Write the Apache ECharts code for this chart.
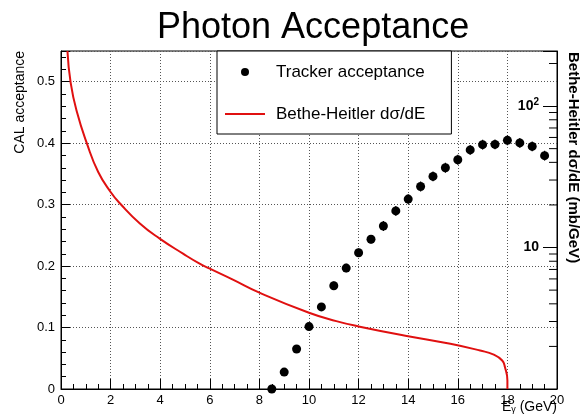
<!DOCTYPE html>
<html>
<head>
<meta charset="utf-8">
<script src="https://cdn.jsdelivr.net/npm/echarts@6/dist/echarts.min.js"></script>
<style>
  html, body { margin: 0; padding: 0; background: #fff; }
  #chart { width: 581px; height: 419px; }
</style>
</head>
<body>
<div id="chart"></div>
<script>
// tracker acceptance points (E in GeV, acceptance, error)
var trackerE = [8.5, 9, 9.5, 10, 10.5, 11, 11.5, 12, 12.5, 13, 13.5, 14, 14.5, 15, 15.5, 16, 16.5, 17, 17.5, 18, 18.5, 19, 19.5];
var trackerAcc = [0.0, 0.0275, 0.065, 0.1015, 0.1336, 0.168, 0.1968, 0.2218, 0.2436, 0.2653, 0.2898, 0.309, 0.3295, 0.3459, 0.36, 0.3731, 0.389, 0.3976, 0.398, 0.4046, 0.4004, 0.3948, 0.3797];
var trackerErr = [0.005, 0.005, 0.006, 0.006, 0.006, 0.007, 0.007, 0.007, 0.007, 0.008, 0.008, 0.008, 0.008, 0.008, 0.008, 0.008, 0.008, 0.008, 0.008, 0.008, 0.008, 0.008, 0.008];

// Bethe-Heitler dσ/dE in mb/GeV, read on the right (log) scale
var bhE = [0.26, 0.39, 0.64, 1.05, 1.5, 2.0, 2.4, 3.18, 3.98, 4.92, 5.59, 6.0, 6.93, 8.0, 10, 11.1, 12, 14, 15.7, 16.9, 17.45, 17.79, 17.9, 18.0, 18.0];
var bhVal = [245, 146, 91, 54, 34.2, 24.7, 20.3, 14.8, 11.56, 9.05, 7.69, 7.09, 5.93, 4.8, 3.46, 3.02, 2.77, 2.36, 2.09, 1.87, 1.75, 1.59, 1.43, 1.15, 1.0];

// right log axis minor ticks
var rightMinorTicks = [2, 3, 4, 5, 6, 7, 8, 9, 20, 30, 40, 50, 60, 70, 80, 90, 200];

var chart = echarts.init(document.getElementById('chart'));

var FONT = 'Liberation Sans, Arial, sans-serif';
var RED = '#e01010';

var option = {
  backgroundColor: '#fff',
  animation: false,
  title: {
    text: 'Photon Acceptance',
    left: 152,
    top: 5,
    textStyle: { fontFamily: FONT, fontSize: 36, fontWeight: 'normal', color: '#000' }
  },
  legend: {
    left: 217,
    top: 51,
    orient: 'vertical',
    backgroundColor: '#fff',
    borderColor: '#000',
    borderWidth: 1,
    borderRadius: 0,
    padding: [11, 26, 10, 8],
    itemWidth: 40,
    itemHeight: 8,
    itemGap: 22,
    textStyle: { fontFamily: FONT, fontSize: 17, color: '#000', lineHeight: 20, padding: [0, 0, 0, 6] },
    data: [
      { name: 'Tracker acceptance', icon: 'circle', itemStyle: { color: '#000', opacity: 1 } },
      { name: 'Bethe-Heitler dσ/dE', icon: 'path://M0,0 L40,0 L40,2 L0,2 Z', itemStyle: { color: RED, opacity: 1 } }
    ]
  },
  grid: {
    left: 61, right: 24, top: 51, bottom: 30,
    show: true, borderColor: '#000', borderWidth: 1, backgroundColor: 'transparent'
  },
  xAxis: {
    type: 'value',
    min: 0, max: 20, interval: 2,
    axisLine: { lineStyle: { color: '#000' } },
    axisTick: { inside: true, length: 10, lineStyle: { color: '#000' } },
    minorTick: { show: true, splitNumber: 4, length: 5, lineStyle: { color: '#000' } },
    axisLabel: { margin: 5, fontFamily: FONT, fontSize: 13, color: '#000' },
    splitLine: { show: true, lineStyle: { color: '#555', type: [1, 2], width: 1 } }
  },
  yAxis: [{
    type: 'value',
    min: 0, max: 0.55, interval: 0.1,
    axisLine: { lineStyle: { color: '#000' } },
    axisTick: { inside: true, length: 9, lineStyle: { color: '#000' } },
    minorTick: { show: true, splitNumber: 5, length: 5, lineStyle: { color: '#000' } },
    axisLabel: { margin: 6, fontFamily: FONT, fontSize: 13, color: '#000', showMaxLabel: false },
    splitLine: { show: true, lineStyle: { color: '#555', type: [1, 2], width: 1 } }
  }, {
    type: 'log',
    logBase: 10,
    min: 1, max: 245,
    position: 'right',
    axisLine: { show: true, lineStyle: { color: '#000' } },
    axisTick: { inside: true, length: 14, lineStyle: { color: '#000' } },
    splitLine: { show: false },
    axisLabel: {
      inside: true, margin: 18, fontFamily: FONT, fontSize: 14, fontWeight: 'bold', color: '#000',
      formatter: function (v) {
        if (Math.abs(v - 10) < 1e-6) return '10';
        if (Math.abs(v - 100) < 1e-6) return '10{sup|2}';
        return '';
      },
      rich: { sup: { fontFamily: FONT, fontSize: 10, fontWeight: 'bold', verticalAlign: 'top', padding: [0, 0, 8, 0] } }
    }
  }],
  graphic: [{
    type: 'text', x: 13, y: 51, rotation: Math.PI / 2,
    style: { text: 'CAL acceptance', font: '14px ' + FONT, fill: '#000', align: 'right', verticalAlign: 'top' }
  }, {
    type: 'text', x: 581, y: 52, rotation: -Math.PI / 2,
    style: { text: 'Bethe-Heitler dσ/dE (mb/GeV)', font: 'bold 15px ' + FONT, fill: '#000', align: 'left', verticalAlign: 'top' }
  }, {
    type: 'text', x: 557, y: 414,
    style: {
      text: 'E{s|γ} (GeV)', font: '14px ' + FONT, fill: '#000', align: 'right', verticalAlign: 'bottom',
      rich: { s: { fontSize: 9, fontFamily: FONT, verticalAlign: 'bottom', padding: [4, 0, 0, 0] } }
    }
  }],
  series: [{
    name: 'Bethe-Heitler dσ/dE',
    type: 'line',
    yAxisIndex: 1,
    data: bhE.map(function (e, i) { return [e, bhVal[i]]; }),
    smooth: 0.5,
    symbol: 'none',
    lineStyle: { color: RED, width: 2 },
    itemStyle: { color: RED },
    z: 3
  }, {
    type: 'custom',
    data: trackerE.map(function (e, i) { return [e, trackerAcc[i], trackerErr[i]]; }),
    renderItem: function (params, api) {
      var x = api.value(0), y = api.value(1), err = api.value(2);
      var lo = api.coord([x, Math.max(0, y - err)]);
      var hi = api.coord([x, y + err]);
      return { type: 'line', shape: { x1: lo[0], y1: lo[1], x2: hi[0], y2: hi[1] }, style: { stroke: '#000', lineWidth: 1.2 } };
    },
    z: 4
  }, {
    name: 'Tracker acceptance',
    type: 'scatter',
    data: trackerE.map(function (e, i) { return [e, trackerAcc[i]]; }),
    symbol: 'circle',
    symbolSize: 9,
    itemStyle: { color: '#000', opacity: 1 },
    clip: false,
    z: 5
  }, {
    type: 'scatter',
    yAxisIndex: 1,
    silent: true,
    clip: false,
    data: rightMinorTicks.map(function (v) { return [20, v]; }),
    symbol: 'rect',
    symbolSize: [8, 1],
    symbolOffset: [-4, 0],
    itemStyle: { color: '#000', opacity: 1 },
    z: 2
  }]
};

chart.setOption(option);
</script>
</body>
</html>
